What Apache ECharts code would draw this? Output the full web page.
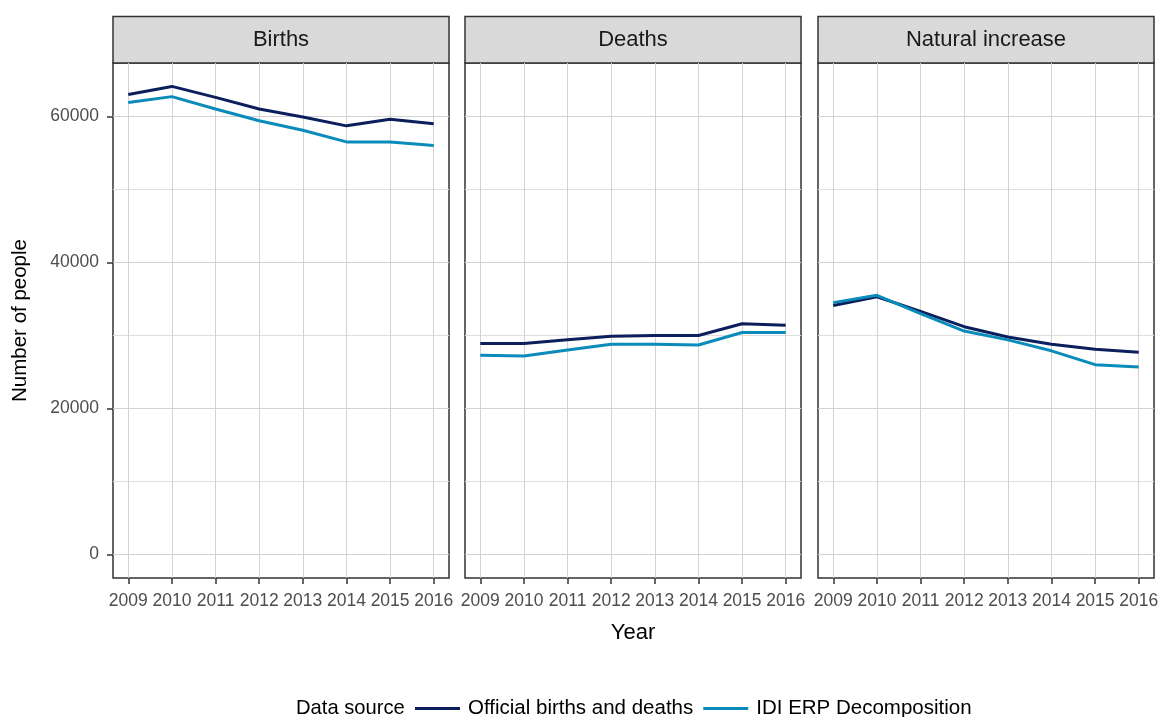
<!DOCTYPE html>
<html>
<head>
<meta charset="utf-8">
<script src="https://cdn.jsdelivr.net/npm/echarts@6/dist/echarts.min.js"></script>
<style>
html,body{margin:0;padding:0;background:#fff;}
#chart{width:1162px;height:717px;}
</style>
</head>
<body>
<div id="chart"></div>
<script>
// ---- data ----
const years = [2009, 2010, 2011, 2012, 2013, 2014, 2015, 2016];
const facetNames = ['Births', 'Deaths', 'Natural increase'];
const seriesNames = ['Official births and deaths', 'IDI ERP Decomposition'];
const birthsOfficial = [63000, 64100, 62600, 61000, 59900, 58700, 59600, 59000];
const birthsIDI      = [61900, 62700, 61000, 59400, 58100, 56500, 56500, 56000];
const deathsOfficial = [28900, 28900, 29400, 29900, 30000, 30000, 31600, 31400];
const deathsIDI      = [27300, 27200, 28000, 28800, 28800, 28700, 30400, 30400];
const niOfficial     = [34100, 35300, 33300, 31200, 29800, 28800, 28100, 27700];
const niIDI          = [34500, 35500, 33000, 30600, 29400, 27900, 26000, 25700];
const yTicks = [0, 20000, 40000, 60000];
const yMinorTicks = [10000, 30000, 50000];
const yMin = -3205, yMax = 67305;
const xMin = 2008.65, xMax = 2016.35;

const facetData = [
  [birthsOfficial, birthsIDI],
  [deathsOfficial, deathsIDI],
  [niOfficial, niIDI]
];
const colors = ['#0A1F5C', '#0A8BBA'];

// ---- layout ----
const gridLefts = [113, 465, 818];
const gridWidth = 336;
const gridTop = 63;
const gridHeight = 515;
const stripTop = 16.5;

const grids = [], xAxes = [], yAxes = [], series = [], graphics = [];
const FONT = 'Liberation Sans, Arial, sans-serif';

facetNames.forEach((name, i) => {
  grids.push({
    left: gridLefts[i], top: gridTop, width: gridWidth, height: gridHeight,
    show: true, borderColor: '#333333', borderWidth: 1.5, backgroundColor: 'transparent',
    containLabel: false
  });
  xAxes.push({
    type: 'value', gridIndex: i, min: xMin, max: xMax, position: 'bottom',
    axisLine: { show: false, onZero: false },
    axisTick: { show: true, length: 6, customValues: years, lineStyle: { color: '#333333', width: 1.5 } },
    axisLabel: { show: true, customValues: years, color: '#4D4D4D', fontSize: 17.5, fontFamily: FONT, margin: 14, formatter: v => String(v) },
    splitLine: { show: true, lineStyle: { color: '#D2D2D2', width: 1 } },
    name: i === 1 ? 'Year' : '',
    nameLocation: 'middle', nameGap: 44,
    nameTextStyle: { color: '#000', fontSize: 22, fontFamily: FONT }
  });
  // main y axis: labels, ticks, major gridlines
  yAxes.push({
    type: 'value', gridIndex: i, min: yMin, max: yMax, position: 'left',
    axisLine: { show: false, onZero: false },
    axisTick: { show: i === 0, length: 6, customValues: yTicks, lineStyle: { color: '#333333', width: 1.5 } },
    axisLabel: { show: i === 0, customValues: yTicks, color: '#4D4D4D', fontSize: 17.5, fontFamily: FONT, margin: 14, formatter: v => String(v) },
    splitLine: { show: true, lineStyle: { color: '#D2D2D2', width: 1 } },
    name: i === 0 ? 'Number of people' : '',
    nameLocation: 'middle', nameGap: 82, nameRotate: 90,
    nameTextStyle: { color: '#000', fontSize: 20.5, fontFamily: FONT }
  });
  // secondary y axis: minor gridlines only
  yAxes.push({
    type: 'value', gridIndex: i, min: yMin, max: yMax, position: 'left',
    axisLine: { show: false, onZero: false },
    axisTick: { show: false, customValues: yMinorTicks },
    axisLabel: { show: false, customValues: yMinorTicks },
    splitLine: { show: true, lineStyle: { color: '#DEDEDE', width: 1 } }
  });
  facetData[i].forEach((vals, s) => {
    series.push({
      name: seriesNames[s], type: 'line',
      xAxisIndex: i, yAxisIndex: i * 2,
      data: years.map((y, k) => [y, vals[k]]),
      showSymbol: false, symbol: 'none',
      lineStyle: { color: colors[s], width: 3 },
      itemStyle: { color: colors[s] },
      z: 5, animation: false
    });
  });
  graphics.push({
    type: 'rect',
    shape: { x: gridLefts[i], y: stripTop, width: gridWidth, height: gridTop - stripTop },
    style: { fill: '#D9D9D9', stroke: '#333333', lineWidth: 1.5 }
  });
  graphics.push({
    type: 'text',
    x: gridLefts[i] + gridWidth / 2, y: (stripTop + gridTop) / 2,
    style: { text: name, fill: '#1A1A1A', fontSize: 22, fontFamily: FONT, align: 'center', verticalAlign: 'middle' }
  });
});

graphics.push({
  type: 'text', x: 296, y: 708,
  style: { text: 'Data source', fill: '#000', fontSize: 20.2, fontFamily: FONT, align: 'left', verticalAlign: 'middle' }
});

const chart = echarts.init(document.getElementById('chart'), null, { renderer: 'canvas' });
chart.setOption({
  animation: false,
  backgroundColor: '#ffffff',
  grid: grids,
  xAxis: xAxes,
  yAxis: yAxes,
  series: series,
  legend: {
    data: seriesNames,
    left: 415, top: 698,
    icon: 'rect', itemWidth: 45, itemHeight: 3, itemGap: 10,
    textStyle: { color: '#000', fontSize: 20.5, fontFamily: FONT, padding: [0, 0, 0, 3] },
    padding: 0
  },
  graphic: graphics
});
</script>
</body>
</html>
